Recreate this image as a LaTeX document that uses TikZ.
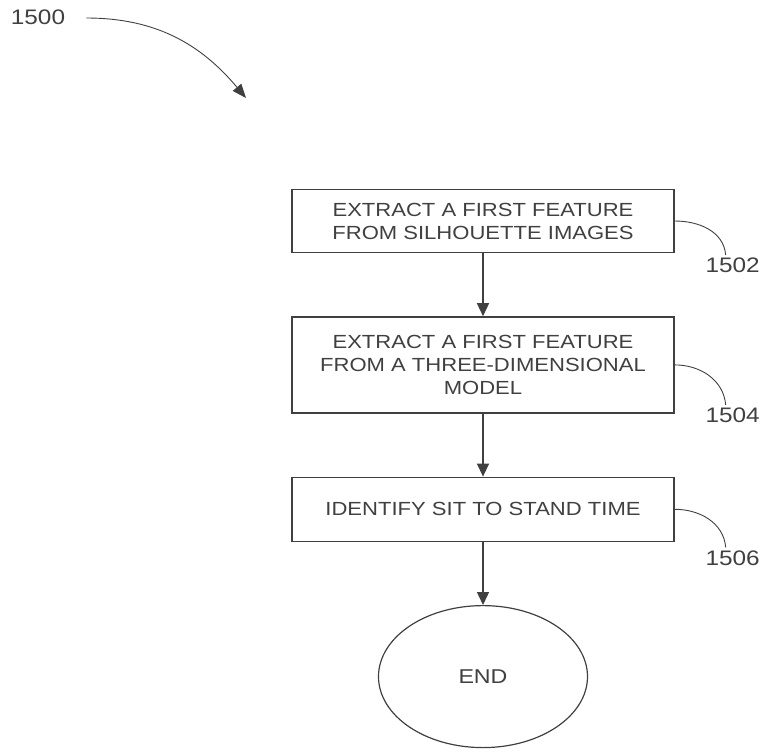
\documentclass[tikz,border=0pt]{standalone}
\usepackage{fontspec}
\setmainfont{Liberation Sans}[FakeStretch=1.16]
\usetikzlibrary{positioning,arrows.meta,shapes.geometric}

\definecolor{inkgray}{gray}{0.25}

\tikzset{
  stepbox/.style={draw=inkgray, line width=1.4pt, minimum width=382pt, align=center,
    text=inkgray, font=\fontsize{19}{23}\selectfont},
  endoval/.style={draw=inkgray, line width=1.2pt, ellipse, minimum width=209pt,
    minimum height=142pt, text=inkgray, font=\fontsize{20}{23}\selectfont},
  flow/.style={draw=inkgray, line width=1.4pt, -{Triangle[width=12pt,length=13pt]}},
  leader/.style={draw=inkgray, line width=0.9pt},
  refnum/.style={text=inkgray, font=\fontsize{21}{23}\selectfont, inner sep=1pt}
}

\begin{document}
\begin{tikzpicture}[x=1pt,y=-1pt]

  \useasboundingbox (0,0) rectangle (763,755);

  \node[refnum] (fig) at (38,17) {1500};
  \coordinate (figtip) at (246,98);
  \draw[leader, -{Triangle[width=11pt,length=14pt]}] ([xshift=20pt,yshift=-1pt]fig.east) to[out=0,in=130] (figtip);

  %==================================================

  \node[stepbox, minimum height=63pt] (b1502) at (483,221) {EXTRACT A FIRST FEATURE\\FROM SILHOUETTE IMAGES};
  \node[stepbox, minimum height=96pt, below=63pt of b1502] (b1504) {EXTRACT A FIRST FEATURE\\FROM A THREE-DIMENSIONAL\\MODEL};
  \node[stepbox, minimum height=64pt, below=63pt of b1504] (b1506) {IDENTIFY SIT TO STAND TIME};
  \node[endoval, below=63pt of b1506] (end) {END};

  %==================================================

  \node[refnum, anchor=north] (r1502) at ([xshift=58pt,yshift=-36pt]b1502.east) {1502};
  \node[refnum, anchor=north] (r1504) at ([xshift=58pt,yshift=-42pt]b1504.east) {1504};
  \node[refnum, anchor=north] (r1506) at ([xshift=58pt,yshift=-40pt]b1506.east) {1506};

  \draw[flow] (b1502) -- (b1504);
  \draw[flow] (b1504) -- (b1506);
  \draw[flow] (b1506) -- (end);

  \draw[leader] (b1502.east) to[out=0,in=95] ([xshift=-7pt,yshift=2pt]r1502.north);
  \draw[leader] (b1504.east) to[out=0,in=95] ([xshift=-7pt,yshift=2pt]r1504.north);
  \draw[leader] (b1506.east) to[out=0,in=95] ([xshift=-7pt,yshift=2pt]r1506.north);

\end{tikzpicture}
\end{document}
